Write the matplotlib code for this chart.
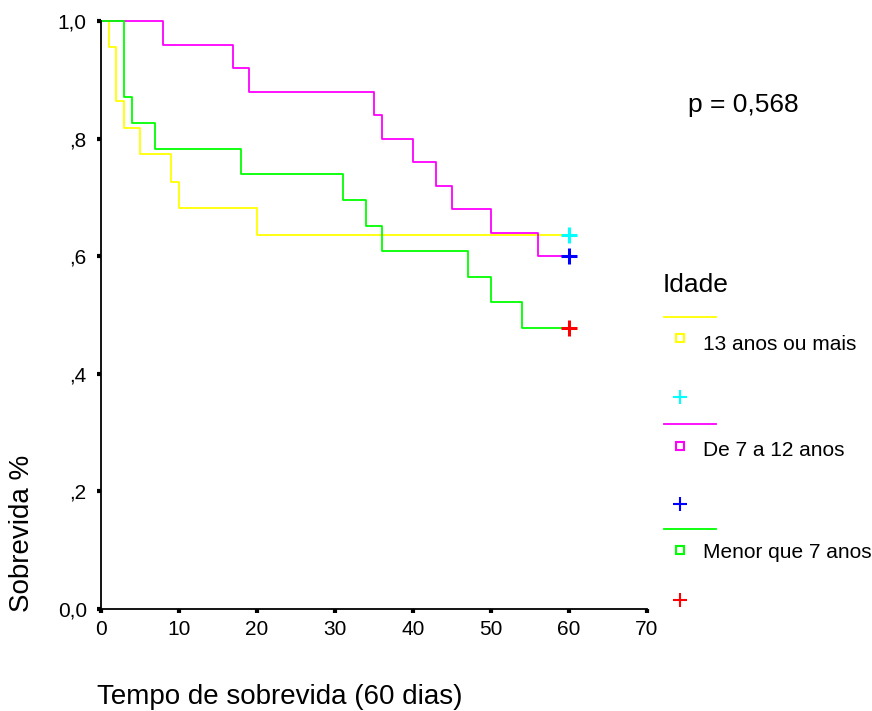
import matplotlib
matplotlib.use("Agg")
import matplotlib.pyplot as plt

plt.rcParams['font.family'] = ['Liberation Sans', 'DejaVu Sans']

# Kaplan-Meier steps (time in days, survival fraction).
times_13_mais = [0, 1, 2, 3, 5, 9, 10, 20, 60]
surv_13_mais = [1.0, 0.955, 0.864, 0.818, 0.773, 0.727, 0.682, 0.636, 0.636]

times_7_12 = [0, 8, 17, 19, 35, 36, 40, 43, 45, 50, 56, 60]
surv_7_12 = [1.0, 0.96, 0.92, 0.88, 0.84, 0.80, 0.76, 0.72, 0.68, 0.64, 0.60, 0.60]

times_menor_7 = [0, 3, 4, 7, 18, 31, 34, 36, 47, 50, 54, 60]
surv_menor_7 = [1.0, 0.870, 0.826, 0.783, 0.739, 0.696, 0.652, 0.609, 0.565,
                0.522, 0.478, 0.478]

group_labels = ["13 anos ou mais", "De 7 a 12 anos", "Menor que 7 anos"]
line_colors = ["#ffff00", "#ff00ff", "#00ff00"]
censor_colors = ["#00ffff", "#0000ff", "#ff0000"]

x_ticks = [0, 10, 20, 30, 40, 50, 60, 70]
y_ticks = [0.0, 0.2, 0.4, 0.6, 0.8, 1.0]
y_tick_labels = ["0,0", ",2", ",4", ",6", ",8", "1,0"]

W, H = 872, 711
fig = plt.figure(figsize=(W / 100, H / 100), dpi=100)
ax = fig.add_axes([100.7 / W, 1 - 609 / H, 546.3 / W, 588 / H])

series = [(times_13_mais, surv_13_mais),
          (times_7_12, surv_7_12),
          (times_menor_7, surv_menor_7)]

for (t, s), lc in zip(series, line_colors):
    ax.step(t, s, where="post", color=lc, lw=1.3, clip_on=False)
for (t, s), cc in zip(series, censor_colors):
    ax.plot(t[-1], s[-1], marker="+", color=cc, ms=11, mew=2.2,
            clip_on=False, zorder=5)

ax.set_xlim(0, 70)
ax.set_ylim(0, 1)
ax.set_xticks(x_ticks)
ax.set_yticks(y_ticks)
ax.set_yticklabels(y_tick_labels)
for side in ["top", "right"]:
    ax.spines[side].set_visible(False)
for side in ["left", "bottom"]:
    ax.spines[side].set_linewidth(1.3)
ax.tick_params(direction="out", length=3, width=3, labelsize=15)
ax.tick_params(axis="x", pad=5)
ax.tick_params(axis="y", pad=7)

# Axis titles and p-value
fig.text(97 / W, 1 - 697 / H, "Tempo de sobrevida (60 dias)",
         fontsize=20, ha="left", va="center")
fig.text(22 / W, 1 - 612 / H, "Sobrevida %", fontsize=20,
         rotation=90, ha="center", va="bottom")
fig.text(688 / W, 1 - 105 / H, "p = 0,568", fontsize=19,
         ha="left", va="center")

# Legend drawn in pixel space on an overlay
lg = fig.add_axes([0, 0, 1, 1])
lg.set_xlim(0, W)
lg.set_ylim(H, 0)
lg.axis("off")
lg.text(663, 285, "Idade", fontsize=19, ha="left", va="center")
line_y = [317, 424, 529]
square_y = [338, 446, 550]
text_y = [344, 450, 553]
plus_y = [397, 504, 600]
for i in range(3):
    lg.plot([664, 716], [line_y[i], line_y[i]], color=line_colors[i], lw=1.3)
    lg.plot(680, square_y[i], marker="s", ms=6, mfc="none",
            mec=line_colors[i], mew=1.5)
    lg.text(703, text_y[i], group_labels[i], fontsize=15,
            ha="left", va="center")
    lg.plot(680, plus_y[i], marker="+", ms=10, mew=1.5,
            color=censor_colors[i])

fig.savefig("out.png", dpi=100)
